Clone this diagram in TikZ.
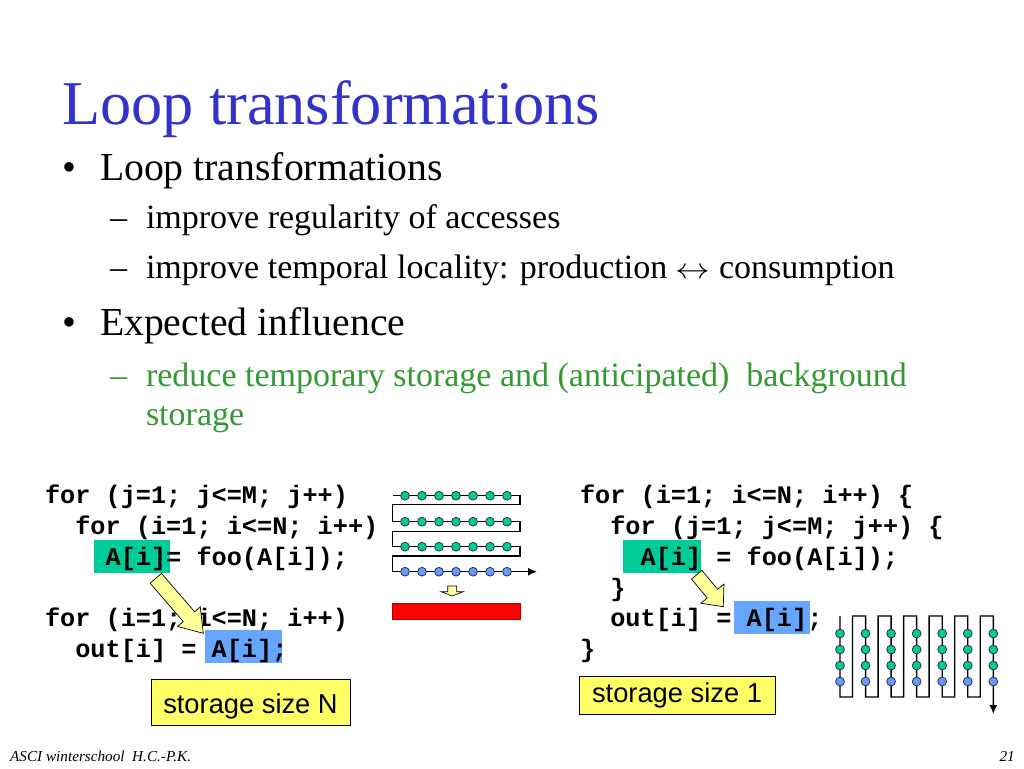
\documentclass[tikz,border=0pt]{standalone}
\usepackage{fontspec}
\usepackage{graphicx}
\setmainfont{Liberation Serif}
\setsansfont{Liberation Sans}
\setmonofont{Liberation Mono}
\usetikzlibrary{arrows.meta}
\definecolor{titleblue}{RGB}{51,51,204}
\definecolor{textgreen}{RGB}{51,153,51}
\definecolor{hlgreen}{RGB}{0,204,153}
\definecolor{hlblue}{RGB}{102,166,255}
\definecolor{dotgreen}{RGB}{0,204,153}
\definecolor{dotblue}{RGB}{102,153,255}
\definecolor{boxyellow}{RGB}{255,255,102}
\definecolor{arryellow}{RGB}{255,255,153}
\newcommand{\lrarrowsym}{{\fontsize{24.88}{30}\selectfont\scalebox{1.4}[1.15]{$\leftrightarrow$}}}
\begin{document}
\begin{tikzpicture}[x=1pt,y=-1pt,
  txt/.style={anchor=base west, inner sep=0pt, outer sep=0pt},
  titletxt/.style={txt, text=titleblue, font=\fontsize{62.3}{70}\selectfont},
  lvlone/.style={txt, font=\fontsize{39.7}{44}\selectfont},
  lvltwo/.style={txt, font=\fontsize{34}{38}\selectfont},
  codetxt/.style={txt, font=\fontsize{25.25}{30}\selectfont\ttfamily\bfseries},
  hlbox/.style={inner sep=0pt, outer sep=0pt, minimum height=33pt},
  sizebox/.style={draw=black, line width=1pt, fill=boxyellow, inner sep=0pt, anchor=base,
     font=\fontsize{27.3}{30}\selectfont\sffamily},
  blockarr/.style={draw=black, line width=0.7pt, fill=arryellow, line join=miter},
  wire/.style={draw=black, line width=1.4pt},
  gdot/.style={fill=dotgreen, draw=black!80, line width=0.8pt},
  bdot/.style={fill=dotblue, draw=black!80, line width=0.8pt},
  foot/.style={inner sep=0pt, font=\fontsize{15.2}{18}\selectfont\itshape}
]
\useasboundingbox (0,0) rectangle (1024,768);
\fill[white] (0,0) rectangle (1024,768);

% Title and bullets
\node[titletxt] (title) at (62,124) {Loop transformations};
\node[lvlone] (b1) at (62,180) {•};
\node[lvlone] (t1) at (100,180) {Loop transformations};
\node[lvltwo] (d1) at (110,228) {–};
\node[lvltwo] (t11) at (146,228) {improve regularity of accesses};
\node[lvltwo] (d2) at (110,278) {–};
\node[lvltwo] (t12) at (146,278) {improve temporal locality: production \lrarrowsym{} consumption};
\node[lvlone] (b2) at (62,335) {•};
\node[lvlone] (t2) at (100,335) {Expected influence};
\node[lvltwo, text=textgreen] (d3) at (110,386) {–};
\node[lvltwo, text=textgreen] (t21) at (146,386) {reduce temporary storage and (anticipated)\ \ background};
\node[lvltwo, text=textgreen] (t22) at (146,425) {storage};

% highlight boxes
\node[hlbox, fill=hlgreen, minimum width=76pt] (lg) at (132,556) {};
\node[hlbox, fill=hlblue, minimum width=77pt] (lb) at (243.5,646) {};
\node[hlbox, fill=hlgreen, minimum width=78pt] (rg) at (662,556) {};
\node[hlbox, fill=hlblue, minimum width=76pt] (rb) at (772,617) {};

% left code
\node[codetxt] (lc1) at (45,503) {for (j=1; j<=M; j++)};
\node[codetxt] (lc2) at (75.3,534) {for (i=1; i<=N; i++)};
\node[codetxt] (lc3) at (105.6,565) {A[i]= foo(A[i]);};
\node[codetxt] (lc4) at (45,626) {for (i=1; i<=N; i++)};
\node[codetxt] (lc5) at (75.3,657) {out[i] = A[i];};

% right code
\node[codetxt] (rc1) at (580,503) {for (i=1; i<=N; i++) \{};
\node[codetxt] (rc2) at (610.3,534) {for (j=1; j<=M; j++) \{};
\node[codetxt] (rc3) at (640.6,565) {A[i] = foo(A[i]);};
\node[codetxt] (rc4) at (610.3,596) {\}};
\node[codetxt] (rc5) at (610.3,626) {out[i] = A[i];};
\node[codetxt] (rc6) at (580,657) {\}};

% yellow block arrows
\coordinate (la) at (155.8,578.3);
\begin{scope}[shift={(la)}, rotate=-49.2]
  \filldraw[blockarr] (0,-7.5) -- (50.7,-7.5) -- (50.7,-15) -- (72.7,0) -- (50.7,15) -- (50.7,7.5) -- (0,7.5) -- cycle;
\end{scope}
\coordinate (ra) at (696.7,574.7);
\begin{scope}[shift={(ra)}, rotate=-50.3]
  \filldraw[blockarr] (0,-6.8) -- (24.6,-6.8) -- (24.6,-15) -- (41.6,0) -- (24.6,15) -- (24.6,6.8) -- (0,6.8) -- cycle;
\end{scope}

% storage boxes
\node[sizebox, minimum width=199pt, text height=34pt, text depth=11.7pt] (sN) at (250.5,713.3) {storage size N};
\node[sizebox, minimum width=196pt, text height=25.5pt, text depth=12pt] (s1) at (677,702) {storage size 1};

% middle serpentine
\coordinate (ms) at (392.7,495.7);
\coordinate (me) at (537,571.7);
\draw[wire, -{Latex[length=9pt,width=8pt]}] (ms) -- (520,495.7) -- (520,504.3) -- (392.7,504.3) -- (392.7,521.7)
  -- (520,521.7) -- (520,531.7) -- (392.7,531.7) -- (392.7,546.7) -- (520,546.7) -- (520,556) -- (392.7,556)
  -- (392.7,571.7) -- (me);
\foreach \yy in {495.7,521.7,546.7} {
  \foreach \k in {0,...,6} { \filldraw[gdot] (405+17*\k,\yy) circle (4.4); }
}
\foreach \k in {0,...,6} { \filldraw[bdot] (405+17*\k,571.7) circle (4.4); }

% small down arrow and red bar
\filldraw[blockarr, line width=0.6pt] (447.7,586) -- (456.7,586) -- (456.7,591.7) -- (463.3,591.7) -- (452.2,596) -- (441,591.7) -- (447.7,591.7) -- cycle;
\filldraw[fill=red, draw=red!70!black, line width=0.6pt] (392.7,603.3) rectangle (520,619.3);

% right serpentine
\coordinate (ss) at (840,616);
\coordinate (se) at (993.3,714);
\draw[wire, -{Latex[length=9pt,width=8pt]}] (ss)
  \foreach \k in {0,...,5} { -- ({840+25.55*\k},697) -- ({852.5+25.55*\k},697) -- ({852.5+25.55*\k},616) -- ({865.55+25.55*\k},616) }
  -- (se);
\foreach \k in {0,...,6} {
  \foreach \yy in {633.5,649.5,665.5} { \filldraw[gdot] ({840+25.55*\k},\yy) circle (4.4); }
  \filldraw[bdot] ({840+25.55*\k},681.5) circle (4.4);
}

% footer
\node[foot, anchor=base west] (fl) at (10,761) {ASCI winterschool\ \ H.C.-P.K.};
\node[foot, anchor=base east] (fr) at (1015,761) {21};
\end{tikzpicture}
\end{document}
